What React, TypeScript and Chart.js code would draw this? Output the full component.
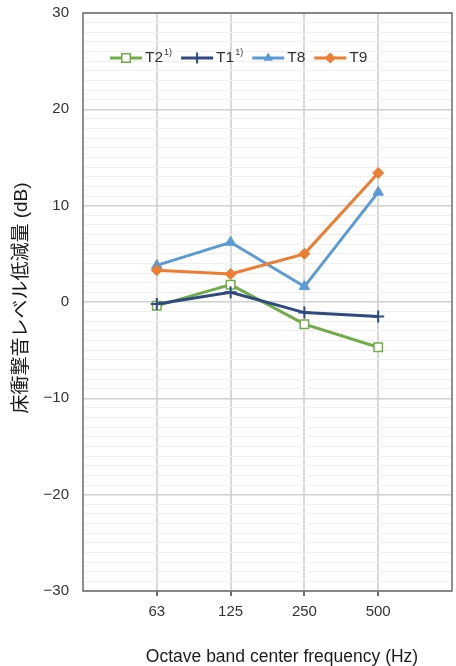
import React, { useEffect, useRef } from 'react';
import { Chart, registerables } from 'chart.js';

Chart.register(...registerables);

const CATEGORIES = ['63', '125', '250', '500'];
const SERIES_LABELS = ['T2', 'T1', 'T8', 'T9'];
const SERIES_NOTES = ['1)', '1)', '', ''];
const T2 = [-0.4, 1.8, -2.3, -4.7];
const T1 = [-0.2, 1.0, -1.1, -1.5];
const T8 = [3.8, 6.2, 1.6, 11.4];
const T9 = [3.3, 2.9, 5.0, 13.4];
const Y_MIN = -30;
const Y_MAX = 30;
const Y_MAJOR = 10;
const Y_MINOR = 1;
const Y_TITLE = '床衝撃音レベル低減量 (dB)';
const X_TITLE = 'Octave band center frequency (Hz)';

const COLORS = ['#70ad47', '#2e4a80', '#5b9bd5', '#ed7d31'];
const STYLES = ['rect', 'cross', 'triangle', 'rectRot'];
const FONT = '"Liberation Sans", Arial, "Noto Sans CJK JP", sans-serif';

function drawMarker(ctx: CanvasRenderingContext2D, style: string, x: number, y: number, r: number, color: string) {
  ctx.save();
  ctx.strokeStyle = color;
  ctx.fillStyle = color;
  ctx.beginPath();
  if (style === 'rect') {
    const h = r * Math.SQRT1_2;
    ctx.fillStyle = '#ffffff';
    ctx.lineWidth = 1.5;
    ctx.rect(x - h, y - h, 2 * h, 2 * h);
    ctx.fill();
    ctx.stroke();
  } else if (style === 'cross') {
    ctx.lineWidth = 2;
    ctx.moveTo(x - r, y);
    ctx.lineTo(x + r, y);
    ctx.moveTo(x, y - r);
    ctx.lineTo(x, y + r);
    ctx.stroke();
  } else if (style === 'triangle') {
    ctx.moveTo(x, y - r);
    ctx.lineTo(x + r * 0.866, y + r * 0.5);
    ctx.lineTo(x - r * 0.866, y + r * 0.5);
    ctx.closePath();
    ctx.fill();
  } else {
    ctx.moveTo(x, y - r);
    ctx.lineTo(x + r, y);
    ctx.lineTo(x, y + r);
    ctx.lineTo(x - r, y);
    ctx.closePath();
    ctx.fill();
  }
  ctx.restore();
}

const decorPlugin = {
  id: 'decor',
  beforeDatasetsDraw(chart: any) {
    const { ctx, chartArea: a } = chart;
    ctx.save();
    ctx.strokeStyle = '#6b6b6b';
    ctx.lineWidth = 1.5;
    ctx.strokeRect(a.left, a.top, a.right - a.left, a.bottom - a.top);
    ctx.restore();
  },
  afterDraw(chart: any) {
    const { ctx } = chart;
    ctx.save();
    ctx.fillStyle = '#1a1a1a';
    ctx.textAlign = 'center';
    ctx.textBaseline = 'middle';
    ctx.font = `17.5px ${FONT}`;
    ctx.fillText(X_TITLE, 282, 657);
    ctx.save();
    ctx.translate(22, 298);
    ctx.rotate(-Math.PI / 2);
    ctx.font = `19px ${FONT}`;
    ctx.fillText(Y_TITLE, 0, 0);
    ctx.restore();

    let x = 110;
    const y = 58;
    ctx.textAlign = 'left';
    for (let i = 0; i < SERIES_LABELS.length; i++) {
      ctx.strokeStyle = COLORS[i];
      ctx.lineWidth = 3;
      ctx.beginPath();
      ctx.moveTo(x, y);
      ctx.lineTo(x + 32, y);
      ctx.stroke();
      drawMarker(ctx, STYLES[i], x + 16, y, STYLES[i] === 'rect' ? 6 : 5.5, COLORS[i]);
      const tx = x + 35;
      ctx.fillStyle = '#333333';
      ctx.font = `15.5px ${FONT}`;
      ctx.textBaseline = 'middle';
      ctx.fillText(SERIES_LABELS[i], tx, y);
      let w = ctx.measureText(SERIES_LABELS[i]).width;
      if (SERIES_NOTES[i]) {
        ctx.font = `9px ${FONT}`;
        ctx.fillText(SERIES_NOTES[i], tx + w + 1, y - 5);
        w += ctx.measureText(SERIES_NOTES[i]).width + 1;
      }
      x = tx + w + 9;
    }
    ctx.restore();
  },
};

export default function App() {
  const ref = useRef<HTMLCanvasElement | null>(null);

  useEffect(() => {
    if (!ref.current) return;
    const labels = ['', ...CATEGORIES, ''];
    const series = [T2, T1, T8, T9];
    const chart = new Chart(ref.current, {
      type: 'line',
      data: {
        labels,
        datasets: series.map((s, i) => ({
          label: SERIES_LABELS[i],
          data: [null, ...s, null],
          borderColor: COLORS[i],
          backgroundColor: STYLES[i] === 'rect' ? '#ffffff' : COLORS[i],
          pointBackgroundColor: STYLES[i] === 'rect' ? '#ffffff' : COLORS[i],
          pointBorderColor: COLORS[i],
          pointStyle: STYLES[i] as any,
          pointRadius: STYLES[i] === 'rect' ? 6 : STYLES[i] === 'rectRot' ? 5.5 : 6,
          pointBorderWidth: STYLES[i] === 'cross' ? 2 : STYLES[i] === 'rect' ? 1.5 : 1,
          borderWidth: 3,
          tension: 0,
          fill: false,
          order: 4 - i,
        })),
      },
      options: {
        animation: false,
        responsive: true,
        maintainAspectRatio: false,
        devicePixelRatio: 1,
        layout: { autoPadding: false, padding: { top: 13, right: 4, left: 0, bottom: 0 } },
        plugins: {
          legend: { display: false },
          tooltip: { enabled: false },
        },
        scales: {
          x: {
            type: 'category',
            offset: false,
            border: { display: false },
            grid: {
              color: (c: any) => (c.index === 0 || c.index === labels.length - 1 ? 'rgba(0,0,0,0)' : '#d9d9d9'),
              lineWidth: 2,
              drawTicks: true,
              tickLength: 5,
              tickColor: (c: any) => (c.index === 0 || c.index === labels.length - 1 ? 'rgba(0,0,0,0)' : '#6b6b6b'),
            },
            ticks: {
              autoSkip: false,
              maxRotation: 0,
              padding: 7,
              color: '#333333',
              font: { family: FONT, size: 15 },
            },
            afterFit: (s: any) => {
              s.height = 75;
              s.paddingLeft = 0;
              s.paddingRight = 0;
              s.paddingTop = 0;
              s.paddingBottom = 0;
            },
          },
          y: {
            type: 'linear',
            min: Y_MIN,
            max: Y_MAX,
            border: { display: false },
            grid: {
              color: (c: any) => (c.tick && c.tick.value % Y_MAJOR === 0 ? '#d0d0d0' : '#efefef'),
              lineWidth: (c: any) => (c.tick && c.tick.value % Y_MAJOR === 0 ? 1.5 : 1),
              drawTicks: false,
            },
            afterBuildTicks: (s: any) => {
              const t = [];
              for (let v = Y_MIN; v <= Y_MAX; v += Y_MINOR) t.push({ value: v });
              s.ticks = t;
            },
            ticks: {
              padding: 14,
              autoSkip: false,
              color: '#333333',
              font: { family: FONT, size: 15 },
              callback: (v: any) => {
                const n = Number(v);
                if (n % Y_MAJOR !== 0) return '';
                return n < 0 ? '\u2212' + Math.abs(n) : String(n);
              },
            },
            afterFit: (s: any) => {
              s.width = 83;
              s.paddingLeft = 0;
              s.paddingRight = 0;
              s.paddingTop = 0;
              s.paddingBottom = 0;
            },
          },
        },
      },
      plugins: [decorPlugin],
    });
    return () => chart.destroy();
  }, []);

  return (
    <div style={{ position: 'fixed', left: 0, top: 0, width: 456, height: 666, background: '#ffffff' }}>
      <canvas ref={ref} />
    </div>
  );
}
